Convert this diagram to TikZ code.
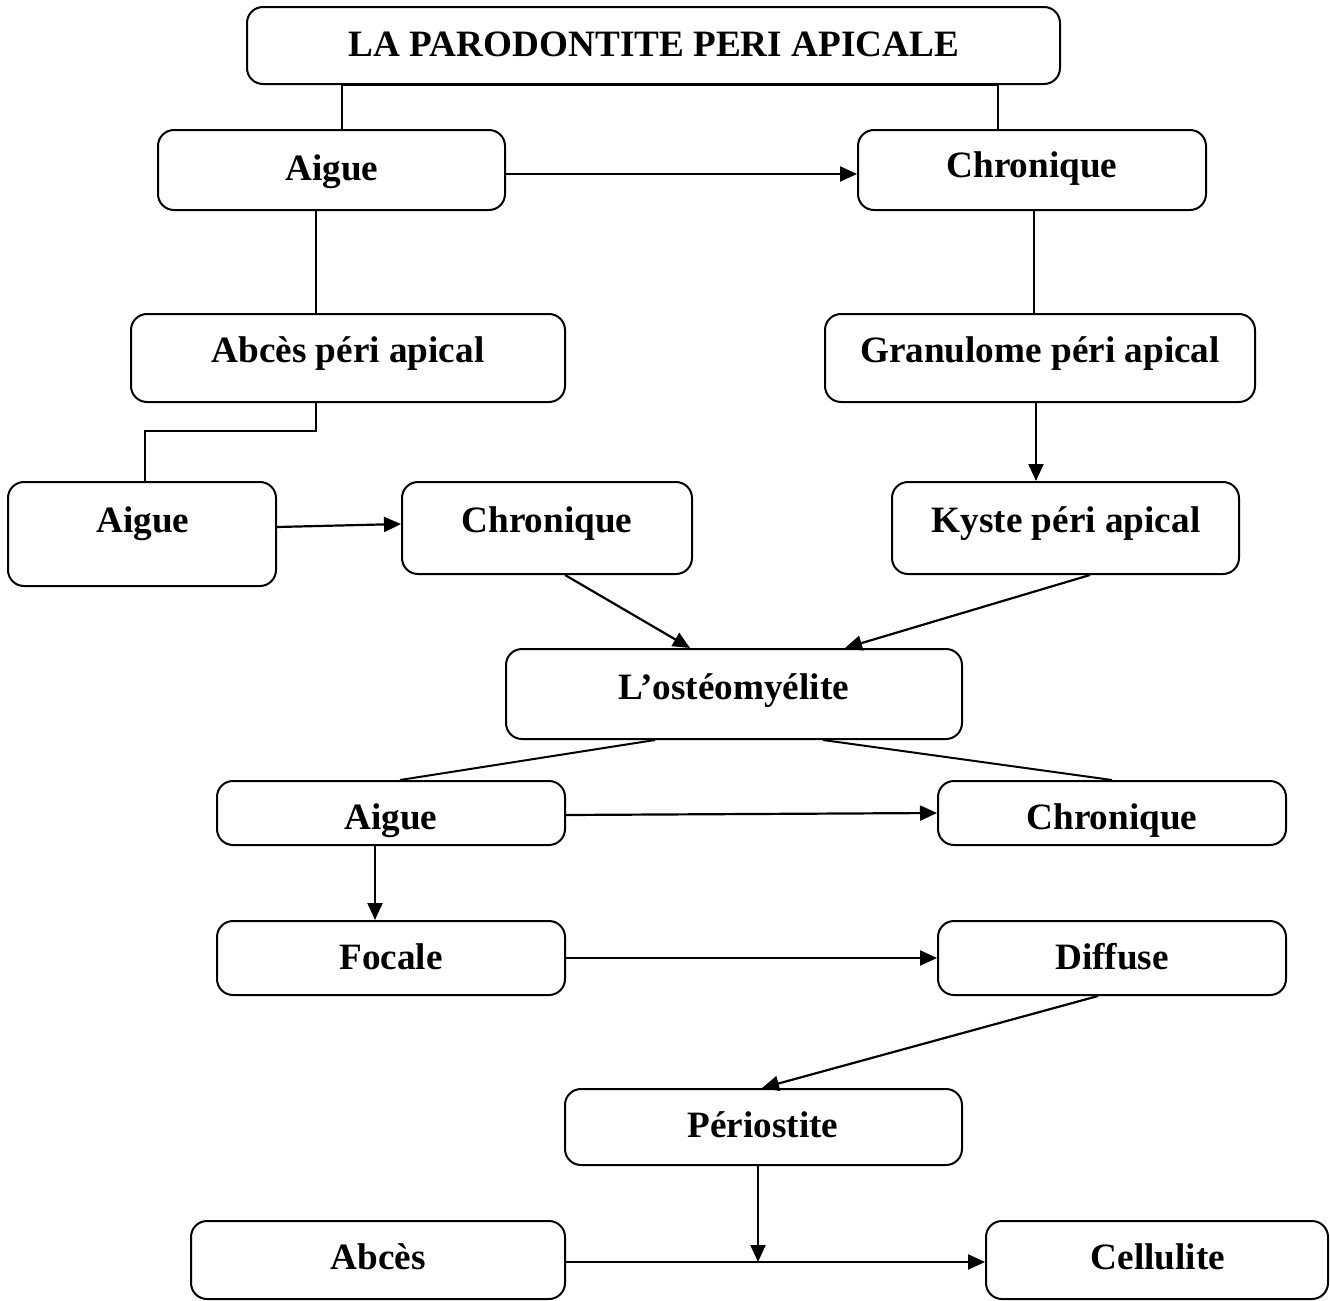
\documentclass[tikz,border=0pt]{standalone}
\usepackage{fontspec}
\setmainfont{Liberation Serif}
\usetikzlibrary{arrows.meta}
\begin{document}
\begin{tikzpicture}[x=0.5pt,y=-0.5pt,
  box/.style={draw,line width=1pt,rounded corners=8pt,inner sep=0pt,fill=none},
  txt/.style={anchor=base,inner sep=0pt,font=\fontsize{18.6}{22}\selectfont\bfseries},
  ln/.style={line width=1pt},
  arr/.style={line width=1.1pt,-{Triangle[length=8.5pt,width=7.5pt]}}]
\useasboundingbox (0,0) rectangle (1330,1301);
% boxes
\node[box,minimum width=406.5pt,minimum height=38.5pt] (t) at (653.5,45.5) {};
\node[box,minimum width=173.5pt,minimum height=40pt] (a1) at (331.5,170) {};
\node[box,minimum width=174pt,minimum height=40pt] (c1) at (1032,170) {};
\node[box,minimum width=217pt,minimum height=44pt] (ab) at (348,358) {};
\node[box,minimum width=215pt,minimum height=44pt] (g) at (1040,358) {};
\node[box,minimum width=134pt,minimum height=52pt] (a2) at (142,534) {};
\node[box,minimum width=145pt,minimum height=46pt] (c2) at (547,528) {};
\node[box,minimum width=173.5pt,minimum height=46pt] (k) at (1065.5,528) {};
\node[box,minimum width=228pt,minimum height=45pt] (o) at (734,694) {};
\node[box,minimum width=174pt,minimum height=32pt] (a3) at (391,813) {};
\node[box,minimum width=174pt,minimum height=32pt] (c3) at (1112,813) {};
\node[box,minimum width=174pt,minimum height=37pt] (f) at (391,958) {};
\node[box,minimum width=174pt,minimum height=37pt] (d) at (1112,958) {};
\node[box,minimum width=198.5pt,minimum height=38pt] (p) at (763.5,1127) {};
\node[box,minimum width=187pt,minimum height=39pt] (ab2) at (378,1260) {};
\node[box,minimum width=171pt,minimum height=39pt] (ce) at (1157,1260) {};
% texts
\node[txt] (tt) at (654,56) {LA PARODONTITE PERI APICALE};
\node[txt] (ta1) at (332,180) {Aigue};
\node[txt] (tc1) at (1032,177) {Chronique};
\node[txt] (tab) at (348,362) {Abcès péri apical};
\node[txt] (tg) at (1040,362) {Granulome péri apical};
\node[txt] (ta2) at (143,532) {Aigue};
\node[txt] (tc2) at (547,532) {Chronique};
\node[txt] (tk) at (1066,532) {Kyste péri apical};
\node[txt] (to) at (734,699) {L’ostéomyélite};
\node[txt] (ta3) at (391,829) {Aigue};
\node[txt] (tc3) at (1112,829) {Chronique};
\node[txt] (tf) at (391,969) {Focale};
\node[txt] (td) at (1112,969) {Diffuse};
\node[txt] (tp) at (763,1137) {Périostite};
\node[txt] (tab2) at (378,1269) {Abcès};
\node[txt] (tce) at (1158,1269) {Cellulite};
% connectors
\draw[ln] ([xshift=5.25pt]a1.north) |- ([xshift=172.25pt]t.south) -- ([xshift=-17pt]c1.north);
\draw[arr] ([yshift=-2pt]a1.east) -- ([yshift=-2pt]c1.west);
\draw[ln] ([xshift=-7.75pt]a1.south) -- ([xshift=-16pt]ab.north);
\draw[ln] ([xshift=1pt]c1.south) -- ([xshift=-3pt]g.north);
\coordinate (k1) at (316,431);
\draw[ln] ([xshift=-16pt]ab.south) -- (k1) -| ([xshift=1.5pt]a2.north);
\draw[arr] ([xshift=-2pt]g.south) -- ([xshift=-14.75pt]k.north);
\draw[arr] ([yshift=3.5pt]a2.east) -- ([yshift=2pt]c2.west);
\draw[arr] ([xshift=9pt]c2.south) -- ([xshift=-22pt]o.north);
\draw[arr] ([xshift=12.25pt]k.south) -- ([xshift=55.5pt]o.north);
\draw[ln] ([xshift=-39.5pt]o.south) -- ([xshift=4.5pt]a3.north);
\draw[ln] ([xshift=44.5pt]o.south) -- (c3.north);
\draw[arr] ([yshift=-1pt]a3.east) -- (c3.west);
\draw[arr] ([xshift=-8pt]a3.south) -- ([xshift=-8pt]f.north);
\draw[arr] (f.east) -- (d.west);
\draw[arr] ([xshift=-7pt]d.south) -- ([xshift=-0.75pt]p.north);
\coordinate (m) at (758,1262);
\draw[arr] ([xshift=-2.75pt]p.south) -- (m);
\draw[arr] ([yshift=-1pt]ab2.east) -- ([yshift=-1pt]ce.west);
\end{tikzpicture}
\end{document}
